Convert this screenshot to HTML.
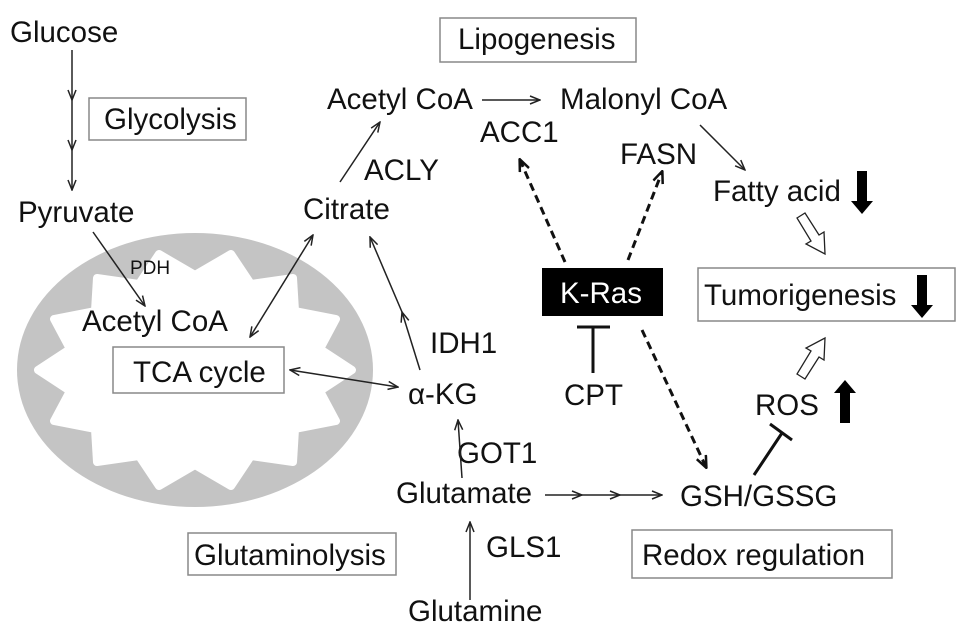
<!DOCTYPE html>
<html><head><meta charset="utf-8"><style>
html,body{margin:0;padding:0;background:#fff;}
svg text{font-family:"Liberation Sans",Arial,sans-serif;font-size:29.5px;fill:#111;}
</style></head><body>
<svg width="969" height="635" viewBox="0 0 969 635" xmlns="http://www.w3.org/2000/svg">
<defs>
<marker id="a" markerWidth="12" markerHeight="10" refX="11" refY="5" orient="auto" markerUnits="userSpaceOnUse"><path d="M1,1 L11,5 L1,9" fill="none" stroke="#222" stroke-width="1.5"/></marker>
<marker id="as" markerWidth="12" markerHeight="10" refX="1" refY="5" orient="auto" markerUnits="userSpaceOnUse"><path d="M11,1 L1,5 L11,9" fill="none" stroke="#222" stroke-width="1.5"/></marker>
<marker id="d" markerWidth="14" markerHeight="12" refX="12" refY="6" orient="auto" markerUnits="userSpaceOnUse"><path d="M1,1 L13,6 L1,11" fill="none" stroke="#111" stroke-width="2.5"/></marker>
</defs>
<ellipse cx="195" cy="370" rx="178" ry="137" fill="#c4c4c4"/>
<polygon fill="#fff" stroke="#fff" stroke-width="8" stroke-linejoin="round" points="352,370 320,391 336,421 295,429 293,462 251,456 231,486 195,465 159,486 139,456 97,462 95,429 54,421 70,391 38,370 70,349 54,319 95,311 97,278 139,284 159,254 195,275 231,254 251,284 293,278 295,311 336,319 320,349"/>
<g fill="#fff" stroke="#888" stroke-width="1.5">
<rect x="89" y="98" width="157" height="42"/>
<rect x="440" y="18" width="196" height="44"/>
<rect x="113" y="347" width="171" height="46"/>
<rect x="698" y="268" width="257" height="53"/>
<rect x="188" y="533" width="208" height="42"/>
<rect x="632" y="530" width="260" height="48"/>
</g>
<rect x="542" y="268" width="121" height="48" fill="#000"/>
<text x="10" y="42">Glucose</text>
<text x="104" y="129">Glycolysis</text>
<text x="18" y="222">Pyruvate</text>
<text x="130" y="274" style="font-size:19px">PDH</text>
<text x="82" y="331">Acetyl CoA</text>
<text x="133" y="382">TCA cycle</text>
<text x="303" y="219">Citrate</text>
<text x="364" y="180">ACLY</text>
<text x="327" y="109">Acetyl CoA</text>
<text x="458" y="49">Lipogenesis</text>
<text x="480" y="142">ACC1</text>
<text x="560" y="109">Malonyl CoA</text>
<text x="620" y="164">FASN</text>
<text x="713" y="201">Fatty acid</text>
<text x="704" y="305">Tumorigenesis</text>
<text x="560" y="303" style="fill:#fff">K-Ras</text>
<text x="430" y="353">IDH1</text>
<text x="408" y="404">α-KG</text>
<text x="564" y="405">CPT</text>
<text x="755" y="415">ROS</text>
<text x="457" y="463">GOT1</text>
<text x="396" y="503">Glutamate</text>
<text x="680" y="506">GSH/GSSG</text>
<text x="194" y="565">Glutaminolysis</text>
<text x="642" y="565">Redox regulation</text>
<text x="486" y="557">GLS1</text>
<text x="408" y="621">Glutamine</text>
<g stroke="#222" stroke-width="1.5" fill="none">
<line x1="72" y1="50" x2="72" y2="100" marker-end="url(#a)"/>
<line x1="72" y1="100" x2="72" y2="150" marker-end="url(#a)"/>
<line x1="72" y1="150" x2="72" y2="190" marker-end="url(#a)"/>
<line x1="93" y1="232" x2="145" y2="306" marker-end="url(#a)"/>
<line x1="313" y1="235" x2="250" y2="337" marker-end="url(#a)" marker-start="url(#as)"/>
<line x1="290" y1="370" x2="398" y2="387" marker-end="url(#a)" marker-start="url(#as)"/>
<line x1="420" y1="370" x2="402" y2="312" marker-end="url(#a)"/>
<line x1="402" y1="312" x2="370" y2="237" marker-end="url(#a)"/>
<line x1="340" y1="182" x2="380" y2="122" marker-end="url(#a)"/>
<line x1="482" y1="100" x2="540" y2="100" marker-end="url(#a)"/>
<line x1="700" y1="125" x2="745" y2="170" marker-end="url(#a)"/>
<line x1="462" y1="478" x2="458" y2="420" marker-end="url(#a)"/>
<line x1="470" y1="600" x2="470" y2="522" marker-end="url(#a)"/>
<line x1="545" y1="495" x2="582" y2="495" marker-end="url(#a)"/>
<line x1="582" y1="495" x2="620" y2="495" marker-end="url(#a)"/>
<line x1="620" y1="495" x2="662" y2="495" marker-end="url(#a)"/>
</g>
<g stroke="#111" stroke-width="3" stroke-dasharray="8,5" fill="none">
<line x1="565" y1="262" x2="520" y2="160" marker-end="url(#d)"/>
<line x1="628" y1="260" x2="662" y2="172" marker-end="url(#d)"/>
<line x1="642" y1="330" x2="706" y2="467" marker-end="url(#d)"/>
</g>
<g stroke="#111" stroke-width="3" fill="none">
<line x1="577" y1="327" x2="610" y2="327"/><line x1="593" y1="327" x2="593" y2="373"/>
<line x1="754" y1="475" x2="782" y2="433"/><line x1="770" y1="424" x2="792" y2="440"/>
</g>
<path d="M857,171 h10 v30 h6 l-11,13 l-11,-13 h6 z" fill="#000"/>
<path d="M917,275 h10 v30 h6 l-11,13 l-11,-13 h6 z" fill="#000"/>
<path d="M840,423 h10 v-30 h6 l-11,-13 l-11,13 h6 z" fill="#000"/>
<path d="M797,218 l8,-5 l14,22 l5,-3 l1,22 l-19,-10 l5,-3 z" fill="#fff" stroke="#222" stroke-width="1.3"/>
<path d="M797,374 l8,5 l14,-22 l5,3 l1,-22 l-19,10 l5,3 z" fill="#fff" stroke="#222" stroke-width="1.3"/>
</svg>
</body></html>
